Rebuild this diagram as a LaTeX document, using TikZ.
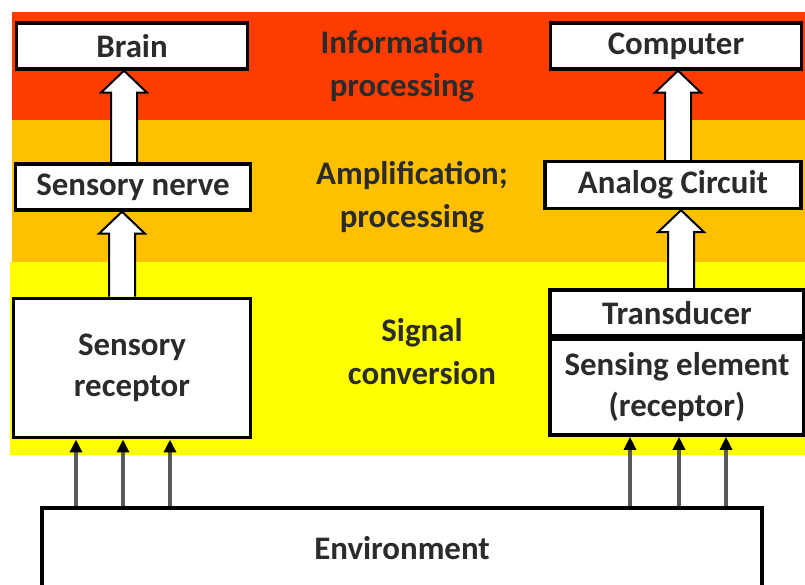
\documentclass[tikz,border=0pt]{standalone}
\usepackage{fontspec}
\setmainfont{Carlito}
\usetikzlibrary{arrows.meta, positioning, calc}
\definecolor{infored}{HTML}{FF3C00}
\definecolor{ampgold}{HTML}{FFC000}
\definecolor{sigyellow}{HTML}{FFFF00}
\definecolor{labelgray}{HTML}{2B2B2B}
\pgfdeclarelayer{bands}
\pgfdeclarelayer{arrows}
\pgfsetlayers{bands,arrows,main}
\tikzset{
  block/.style={draw=black, line width=3.5bp, fill=white, text=labelgray,
    font=\bfseries\fontsize{33}{41}\selectfont, align=center, inner sep=0pt},
  stage/.style={text=labelgray, font=\bfseries\fontsize{33}{43}\selectfont, align=center},
  fat arrow/.style={draw=black, line width=2bp, fill=white, line join=miter},
  thin arrow/.style={draw=black!65, line width=3.5bp,
    -{Triangle[length=13bp,width=12bp,color=black]}}
}
% block arrow at x=#1, from anchor #2 up to anchor #3
\newcommand{\fatarrow}[3]{%
  \coordinate (fa) at (#1,0);
  \draw[fat arrow] ($(fa |- #2)+(-13,0)$) -- ($(fa |- #3)+(-13,22)$)
    -- ($(fa |- #3)+(-23,22)$) -- (fa |- #3) -- ($(fa |- #3)+(23,22)$)
    -- ($(fa |- #3)+(13,22)$) -- ($(fa |- #2)+(13,0)$);
}
\begin{document}
\begin{tikzpicture}[x=1bp, y=-1bp]
  \useasboundingbox (0,0) rectangle (805,585);

  % coloured stage bands
  \begin{pgfonlayer}{bands}
    \fill[infored]   (12,12)  rectangle (805,120);
    \fill[ampgold]   (12,120) rectangle (805,262);
    \fill[sigyellow] (10,262) rectangle (805,455);
  \end{pgfonlayer}

  % stage labels
  \node[stage] (info)   at (402,66)  {Information\\processing};
  \node[stage] (amp)    at (412,197) {Amplification;\\processing};
  \node[stage] (signal) at (422,352) {Signal\\conversion};

  % biological chain
  \node[block, minimum width=232, minimum height=46] (brain)    at (132,46)  {Brain};
  \node[block, minimum width=236, minimum height=46] (nerve)    at (133,187) {Sensory nerve};
  \node[block, minimum width=238, minimum height=140] (receptor) at (132,368) {Sensory\\receptor};

  % technical chain
  \node[block, minimum width=252, minimum height=46] (computer)   at (676,46)  {Computer};
  \node[block, minimum width=257, minimum height=47] (analog)     at (673,185) {Analog Circuit};
  \node[block, minimum width=255, minimum height=46] (transducer) at (677,313) {Transducer};
  \node[block, minimum width=255, minimum height=96, below=0pt of transducer] (sensing)
    {Sensing element\\(receptor)};

  % environment
  \node[block, minimum width=723, minimum height=80] (env) at (402,548) {Environment};

  % block arrows, kept under the boxes
  \begin{pgfonlayer}{arrows}
    \fatarrow{124}{nerve.north}{brain.south}
    \fatarrow{122}{receptor.north}{nerve.south}
    \fatarrow{678}{analog.north}{computer.south}
    \fatarrow{681}{transducer.north}{analog.south}
  \end{pgfonlayer}

  % stimuli from the environment
  \foreach \x in {76,123,170} {
    \path (\x,0) coordinate (t);
    \draw[thin arrow] (t |- env.north) -- (t |- receptor.south);
  }
  \foreach \x in {630,679,726} {
    \path (\x,0) coordinate (t);
    \draw[thin arrow] (t |- env.north) -- (t |- sensing.south);
  }

\end{tikzpicture}
\end{document}
